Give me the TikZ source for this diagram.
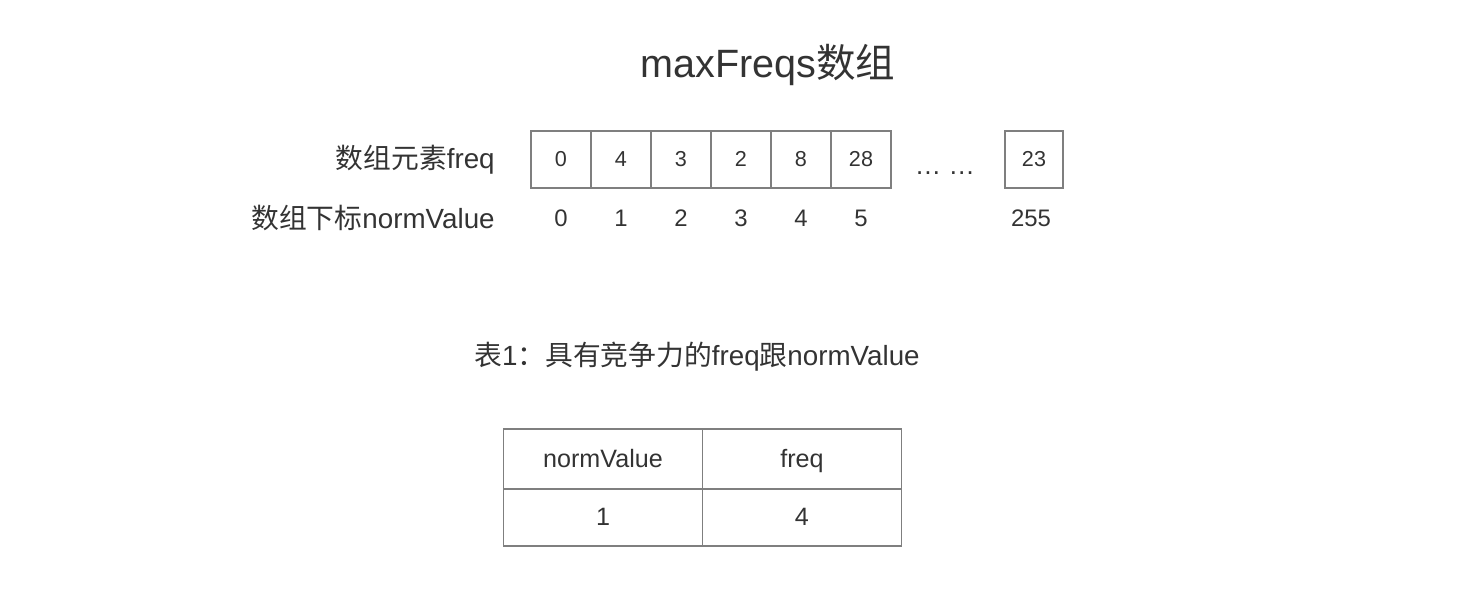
\documentclass[tikz,border=0pt]{standalone}
\usepackage{fontspec}
\setmainfont{Liberation Sans}
\newfontfamily\cjk{Noto Sans CJK SC}
\usetikzlibrary{positioning}
\definecolor{txt}{HTML}{333333}
\definecolor{edge}{HTML}{7F7F7F}
\begin{document}
\begin{tikzpicture}[x=0.02cm, y=-0.02cm, text=txt,
  cell/.style={draw=edge, line width=0.9pt, outer sep=0pt, inner sep=0pt,
    text height=1.9ex, text depth=0.3ex,
    minimum width=1.2cm, minimum height=1.14cm, font=\fontsize{12.3}{14}\selectfont},
  idx/.style={font=\fontsize{13.6}{16}\selectfont},
  lab/.style={anchor=east, inner sep=0pt, font=\fontsize{15.8}{18}\selectfont},
  tab/.style={draw=edge, line width=0.9pt, outer sep=0pt, inner sep=0pt,
    text height=2.1ex, text depth=0.3ex,
    minimum width=3.98cm, font=\fontsize{14.3}{17}\selectfont}]

  \useasboundingbox (0,0) rectangle (1468,606);

  % title
  \node[font=\fontsize{22.5}{26}\selectfont] (title) at (768,65) {maxFreqs{\cjk 数组}};

  % row labels
  \node[lab] (labfreq) at (495,160) {{\cjk 数组元素}freq};
  \node[lab] (labidx) at (495,218) {{\cjk 数组下标}normValue};

  % array cells and their indices
  \foreach \v [count=\i from 0] in {0,4,3,2,8,28} {
    \node[cell] (c\i) at ({561+60*\i},159.5) {\v};
    \node[idx] (i\i) at ({561+60*\i},218) {\i};
  }
  \node[font=\fontsize{15}{18}\selectfont] (dots) at (945,173) {… …};
  \node[cell, minimum width=1.16cm] (clast) at (1034,159.5) {23};
  \node[idx] (ilast) at (1031,218) {255};

  % caption
  \node[font=\fontsize{15.8}{18}\selectfont] (cap) at (697,357)
    {{\cjk 表}1{\cjk ：具有竞争力的}freq{\cjk 跟}normValue};

  % result table
  \node[tab, minimum height=1.2cm] (t11) at (603,459) {normValue};
  \node[tab, minimum height=1.2cm, right=0pt of t11] (t12) {freq};
  \node[tab, minimum height=1.14cm, below=0pt of t11] (t21) {1};
  \node[tab, minimum height=1.14cm, below=0pt of t12] (t22) {4};

\end{tikzpicture}
\end{document}
